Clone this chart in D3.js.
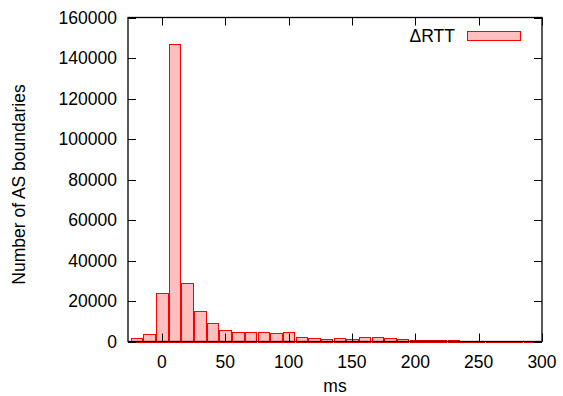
<!DOCTYPE html>
<html>
<head>
<meta charset="utf-8">
<script src="https://cdn.jsdelivr.net/npm/d3@7"></script>
<style>
  body { margin: 0; background: #fff; }
  svg text { font-family: "Liberation Sans", Arial, sans-serif; }
</style>
</head>
<body>
<script>
// bin centers (ms) and counts
const binCenters = [-20, -10, 0, 10, 20, 30, 40, 50, 60, 70, 80, 90, 100, 110, 120, 130, 140,
  150, 160, 170, 180, 190, 200, 210, 220, 230, 240, 250, 260, 270, 280, 290];
const counts = [1600, 3700, 23800, 147000, 28900, 14900, 9000, 5700, 4700, 4700, 4500, 4200, 4500,
  2200, 1700, 1400, 1500, 1400, 2200, 2100, 1600, 1100, 600, 600, 600, 600, 400, 400, 350, 300, 300, 300];
const xTicks = [0, 50, 100, 150, 200, 250, 300];
const yTicks = [0, 20000, 40000, 60000, 80000, 100000, 120000, 140000, 160000];
const seriesName = "\u0394RTT";

const width = 563, height = 396;
const margin = { left: 128, right: 21, top: 17.5, bottom: 54.5 };
const fontSize = 17.5;
const tickLen = 8;
const binWidth = 9; // ms, boxes are 90% of the 10 ms bin

const x = d3.scaleLinear().domain([-26.7, 300]).range([margin.left, width - margin.right]);
const y = d3.scaleLinear().domain([0, 160000]).range([height - margin.bottom, margin.top]);

const svg = d3.select("body").append("svg")
  .attr("width", width)
  .attr("height", height)
  .attr("font-size", fontSize);

const data = binCenters.map((c, i) => ({ c, v: counts[i] }));

// bars
svg.append("g")
  .selectAll("rect")
  .data(data)
  .join("rect")
  .attr("x", (d) => Math.round(x(d.c - binWidth / 2)) + 0.5)
  .attr("y", (d) => Math.round(y(d.v)) + 0.5)
  .attr("width", (d) => Math.round(x(d.c + binWidth / 2)) - Math.round(x(d.c - binWidth / 2)))
  .attr("height", (d) => Math.max(0, Math.round(y(0)) - Math.round(y(d.v))))
  .attr("fill", "#ffbfbf")
  .attr("stroke", "#ff0000")
  .attr("stroke-width", 1);

// ticks, mirrored on all four sides, pointing inward
const x0 = margin.left, x1 = width - margin.right;
const y0 = height - margin.bottom, y1 = margin.top;
const tg = svg.append("g").attr("stroke", "#000").attr("stroke-width", 1);

yTicks.forEach((t) => {
  const yy = Math.round(y(t)) + 0.5;
  tg.append("line").attr("x1", x0).attr("x2", x0 + tickLen).attr("y1", yy).attr("y2", yy);
  tg.append("line").attr("x1", x1).attr("x2", x1 - tickLen).attr("y1", yy).attr("y2", yy);
});
xTicks.forEach((t) => {
  const xx = Math.round(x(t)) + 0.5;
  tg.append("line").attr("x1", xx).attr("x2", xx).attr("y1", y0).attr("y2", y0 - tickLen);
  tg.append("line").attr("x1", xx).attr("x2", xx).attr("y1", y1).attr("y2", y1 + tickLen);
});

// border
svg.append("rect")
  .attr("x", x0).attr("y", y1)
  .attr("width", x1 - x0).attr("height", y0 - y1)
  .attr("fill", "none").attr("stroke", "#000").attr("stroke-width", 1.3);

// tick labels
svg.append("g")
  .selectAll("text")
  .data(yTicks)
  .join("text")
  .attr("x", 117)
  .attr("y", (d) => y(d))
  .attr("dy", "0.36em")
  .attr("text-anchor", "end")
  .text((d) => d);

svg.append("g")
  .selectAll("text")
  .data(xTicks)
  .join("text")
  .attr("x", (d) => x(d))
  .attr("y", 367.5)
  .attr("text-anchor", "middle")
  .text((d) => d);

// axis titles
svg.append("text")
  .attr("x", (x0 + x1) / 2)
  .attr("y", 391.5)
  .attr("text-anchor", "middle")
  .text("ms");

svg.append("text")
  .attr("transform", `translate(25,${(y0 + y1) / 2 + 5}) rotate(-90)`)
  .attr("text-anchor", "middle")
  .text("Number of AS boundaries");

// legend
svg.append("text")
  .attr("x", 455)
  .attr("y", 41.5)
  .attr("text-anchor", "end")
  .text(seriesName);

svg.append("rect")
  .attr("x", 467.5).attr("y", 31.5)
  .attr("width", 53).attr("height", 9)
  .attr("fill", "#ffbfbf").attr("stroke", "#ff0000");
</script>
</body>
</html>
